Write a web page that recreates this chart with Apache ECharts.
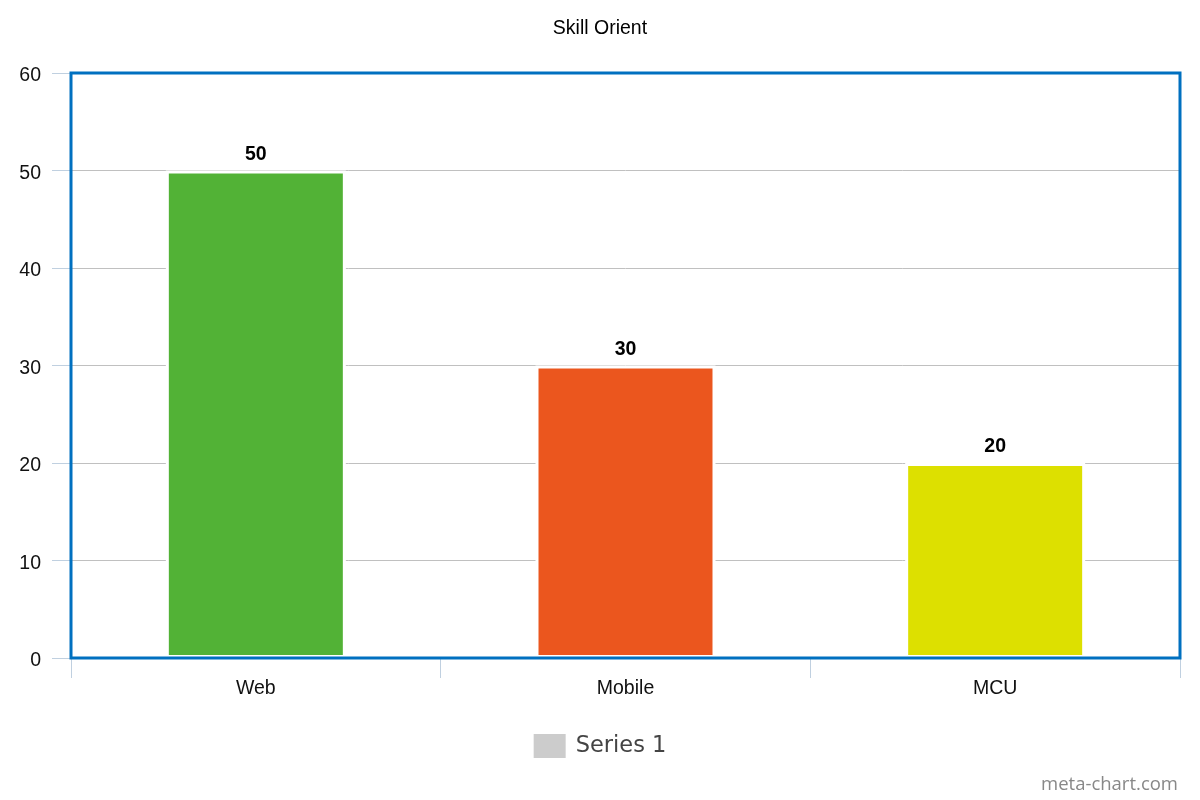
<!DOCTYPE html>
<html>
<head>
<meta charset="utf-8">
<title>Skill Orient</title>
<script src="https://cdn.jsdelivr.net/npm/echarts@6/dist/echarts.min.js"></script>
<style>
  html, body { margin: 0; padding: 0; background: #fff; }
  #chart { width: 1200px; height: 800px; }
</style>
</head>
<body>
<div id="chart"></div>
<script>
const categories = ['Web', 'Mobile', 'MCU']
const values = [50, 30, 20]
const barColors = ['#52B236', '#EB561E', '#DDE000']
const seriesName = 'Series 1'
const yTicks = { min: 0, max: 60, interval: 10 }

const chart = echarts.init(document.getElementById('chart'))

const axisBlue = '#C0D0E0'
const font = 'Liberation Sans, Arial, sans-serif'

const option = {
  animation: false,
  backgroundColor: '#fff',
  title: [
    {
      text: 'Skill Orient',
      left: 'center',
      top: 14,
      textStyle: { fontFamily: font, fontSize: 19.5, fontWeight: 'normal', color: '#000' },
    },
    {
      text: 'meta-chart.com',
      right: 17,
      bottom: 1,
      textStyle: { fontFamily: 'Open Sans, DejaVu Sans, sans-serif', fontSize: 18.5, fontWeight: 'normal', color: '#888' },
    },
  ],
  legend: {
    data: [seriesName],
    bottom: 37,
    left: 'center',
    itemWidth: 32,
    itemHeight: 24,
    itemGap: 10,
    icon: 'rect',
    itemStyle: { color: '#CCCCCC', borderWidth: 0 },
    textStyle: { fontFamily: 'DejaVu Sans, sans-serif', fontSize: 22.5, color: '#444', padding: [0, 0, 0, 5] },
  },
  grid: {
    left: 71,
    right: 20,
    top: 73,
    bottom: 142,
    show: true,
    z: 5,
    backgroundColor: 'transparent',
    borderColor: '#0070C0',
    borderWidth: 3,
  },
  xAxis: {
    type: 'category',
    data: categories,
    boundaryGap: true,
    axisLine: { show: true, lineStyle: { color: axisBlue } },
    axisTick: { show: true, length: 20, lineStyle: { color: axisBlue } },
    axisLabel: { fontFamily: font, fontSize: 19.5, color: '#111', margin: 21 },
    splitLine: { show: false },
  },
  yAxis: {
    type: 'value',
    min: yTicks.min,
    max: yTicks.max,
    interval: yTicks.interval,
    axisLine: { show: false },
    axisTick: { show: true, length: 19, lineStyle: { color: axisBlue } },
    axisLabel: { fontFamily: font, fontSize: 19.5, color: '#111', margin: 30, verticalAlign: 'top', lineHeight: 6 },
    splitLine: { show: true, lineStyle: { color: '#C0C0C0', width: 1 } },
  },
  series: [
    {
      name: seriesName,
      type: 'bar',
      barWidth: 180,
      itemStyle: { color: '#CCCCCC', borderColor: '#fff', borderWidth: 3 },
      label: {
        show: true,
        position: 'top',
        distance: 6,
        fontFamily: font,
        fontSize: 19.5,
        fontWeight: 'bold',
        color: '#000',
      },
      data: values.map((v, i) => ({ value: v, itemStyle: { color: barColors[i] } })),
    },
  ],
}

chart.setOption(option)
</script>
</body>
</html>
